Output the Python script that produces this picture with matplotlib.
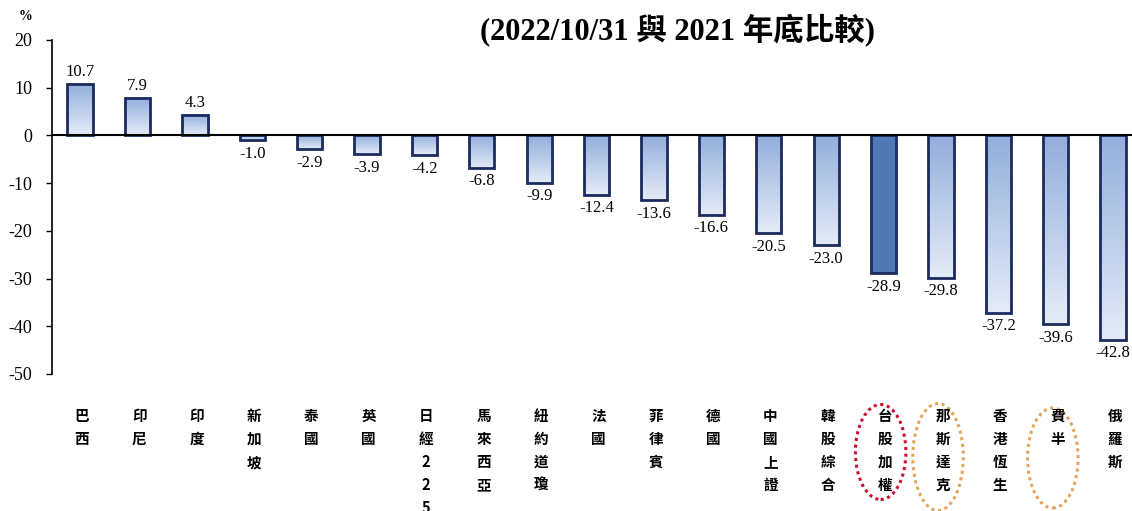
import matplotlib
matplotlib.use('Agg')
import matplotlib.pyplot as plt
import numpy as np
from matplotlib.colors import LinearSegmentedColormap
from matplotlib.patches import Ellipse
from matplotlib.transforms import blended_transform_factory

plt.rcParams['font.family'] = ['Liberation Serif', 'Noto Sans CJK TC']
plt.rcParams['axes.unicode_minus'] = False

# data
markets = ['巴西', '印尼', '印度', '新加坡', '泰國', '英國', '日經225', '馬來西亞', '紐約道瓊',
           '法國', '菲律賓', '德國', '中國上證', '韓股綜合', '台股加權', '那斯達克', '香港恆生',
           '費半', '俄羅斯']
changes = [10.7, 7.9, 4.3, -1.0, -2.9, -3.9, -4.2, -6.8, -9.9, -12.4, -13.6, -16.6,
           -20.5, -23.0, -28.9, -29.8, -37.2, -39.6, -42.8]
y_ticks = [20, 10, 0, -10, -20, -30, -40, -50]
highlight = '台股加權'
# circled labels: colour, ellipse centre y and height in pixels
circled = {'台股加權': ('#c8102e', 452, 95),
           '那斯達克': ('#e3a35a', 457, 107),
           '費半': ('#e3a35a', 458, 100)}

fig = plt.figure(figsize=(11.32, 5.11), dpi=100)
ax = fig.add_axes([52 / 1132, 1 - 374 / 511, 1 - 52 / 1132, (374 - 40) / 511])

x = np.arange(len(markets))
bars = ax.bar(x, changes, width=0.44, facecolor='none', edgecolor='#1b2b5e',
              linewidth=2, zorder=3)

grad = LinearSegmentedColormap.from_list('g', ['#e4ebf7', '#93aedc'])
col = np.linspace(1, 0, 100).reshape(-1, 1)
for name, b in zip(markets, bars):
    x0, w = b.get_x(), b.get_width()
    y0, h = b.get_y(), b.get_height()
    lo, hi = min(y0, y0 + h), max(y0, y0 + h)
    if name == highlight:
        ax.fill_between([x0, x0 + w], lo, hi, color='#4e78b6', zorder=2, linewidth=0)
    else:
        ax.imshow(col, cmap=grad, extent=[x0, x0 + w, lo, hi], origin='upper',
                  aspect='auto', zorder=2, vmin=0, vmax=1)

for xi, v in zip(x, changes):
    if v >= 0:
        ax.annotate(f'{v:.1f}', (xi, v), xytext=(0, 3), textcoords='offset points',
                    ha='center', va='bottom', fontsize=12)
    else:
        ax.annotate(f'{v:.1f}', (xi, v), xytext=(0, -4), textcoords='offset points',
                    ha='center', va='top', fontsize=12)

ax.axhline(0, color='black', linewidth=1.5, zorder=4)
ax.set_xlim(-0.49, 18.33)
ax.set_ylim(-50, 20)
ax.set_yticks(y_ticks)
ax.set_xticks([])
ax.tick_params(axis='y', direction='out', length=4, width=1, labelsize=13, pad=10)
for s in ['top', 'right', 'bottom']:
    ax.spines[s].set_visible(False)
ax.spines['left'].set_linewidth(1.2)

# category labels, one character per line
trans = blended_transform_factory(ax.transData, fig.transFigure)
for xi, name in zip(x, markets):
    ax.text(xi + 0.03, 1 - 408 / 511, '\n'.join(name), transform=trans, ha='center',
            va='top', fontsize=10.5, fontweight='bold', linespacing=1.54,
            family=['Noto Sans CJK TC', 'DejaVu Sans'], clip_on=False)
    if name in circled:
        c, cy, hgt = circled[name]
        ax.add_patch(Ellipse((xi - 0.05, 1 - cy / 511), 0.88, hgt / 511, transform=trans,
                             fill=False, edgecolor=c, linestyle=(0, (1, 1.2)),
                             linewidth=2.2, clip_on=False))

fig.text(25 / 1132, 1 - 17 / 511, '%', fontsize=10, fontweight='bold', ha='center', va='center')
fig.text(677 / 1132, 1 - 30 / 511, '(2022/10/31 與 2021 年底比較)', fontsize=22,
         fontweight='bold', ha='center', va='center')

fig.savefig('out.png', dpi=100)
